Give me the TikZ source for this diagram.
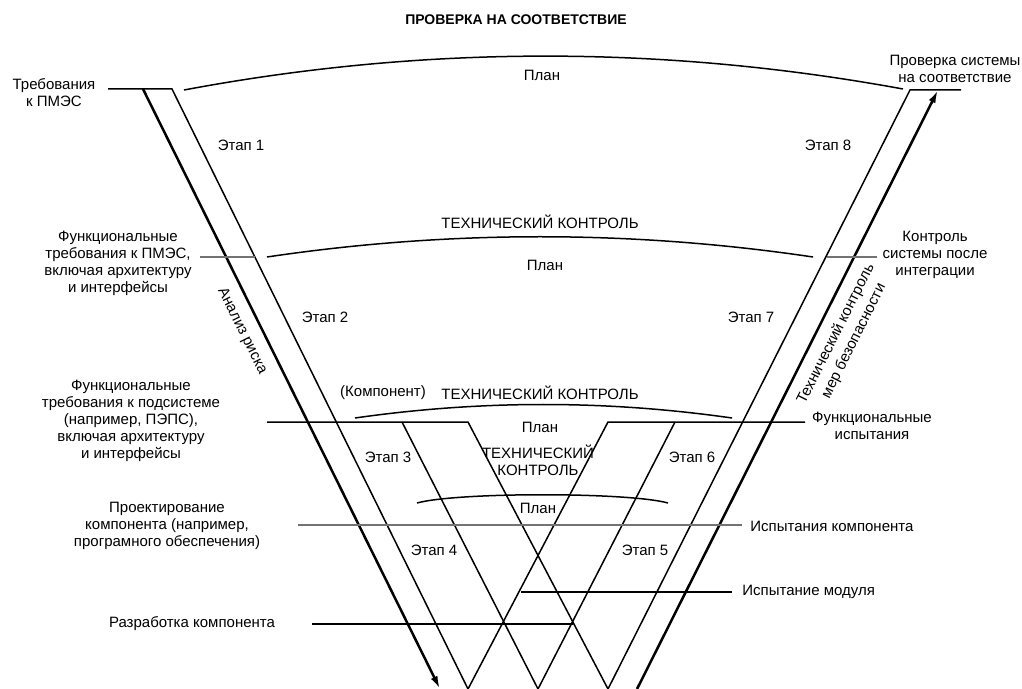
\documentclass[tikz,border=0pt]{standalone}
\usepackage{fontspec}
\setmainfont{Liberation Sans}
\usetikzlibrary{arrows.meta}
\begin{document}
\begin{tikzpicture}[x=0.5pt,y=-0.5pt,
  lbl/.style={font=\fontsize{7.5}{8.5}\selectfont, align=center, inner sep=0pt},
  ttl/.style={font=\bfseries\fontsize{7}{8}\selectfont, inner sep=0pt},
  ln/.style={line width=0.75pt},
  thk/.style={line width=1.25pt},
  gry/.style={line width=0.8pt, draw=black!55},
  arr/.style={-{Latex[length=6.5pt,width=3.6pt]}}
]
\useasboundingbox (0,0) rectangle (1022,689);
% coordinates
\coordinate (LOt) at (143,89);  \coordinate (LOb) at (440,689);
\coordinate (LIt) at (172,89);  \coordinate (LIb) at (468,689);
\coordinate (Lh)  at (108,89);
\coordinate (RIt) at (910,90);  \coordinate (RIb) at (608,689);
\coordinate (Rh)  at (961,90);
\coordinate (ROt) at (938,90);  \coordinate (ROb) at (637,689);
\coordinate (Mb)  at (538,689);
% level 3 trapezoid
\coordinate (H3l) at (267,422); \coordinate (Bt) at (468,422);
\coordinate (Ct)  at (608,422); \coordinate (H3r) at (805,422);
\coordinate (At)  at (402,422); \coordinate (Dt) at (675,422);
% outer band
\draw[thk,arr] (LOt) -- (LOb);
\draw[ln] (Lh) -- (LIt) -- (LIb);
\draw[ln] (Rh) -- (RIt) -- (RIb);
\draw[thk,arr] (ROb) -- (ROt);
% arcs
\coordinate (a1s) at (184,90); \coordinate (a1e) at (903,89);
\draw[ln] (a1s) .. controls (424,45) and (663,45) .. (a1e);
\coordinate (a2s) at (267,257); \coordinate (a2e) at (813,257);
\draw[ln] (a2s) .. controls (449,230) and (631,230) .. (a2e);
\coordinate (a3s) at (355,418); \coordinate (a3e) at (732,418);
\draw[ln] (a3s) .. controls (481,400) and (606,400) .. (a3e);
\coordinate (a4s) at (417,503); \coordinate (a4e) at (668,503);
\draw[ln] (a4s) .. controls (457,492) and (628,492) .. (a4e);
% horizontals
\coordinate (h2a) at (200,257); \coordinate (h2b) at (255,257);
\coordinate (h2c) at (827,257); \coordinate (h2d) at (877,257);
\draw[gry] (h2a) -- (h2b);
\draw[gry] (h2c) -- (h2d);
\draw[ln] (H3l) -- (Bt) -- (RIb);
\draw[ln] (H3r) -- (Ct) -- (LIb);
\draw[ln] (At) -- (Mb);
\draw[ln] (Dt) -- (Mb);
\coordinate (h5a) at (298,525); \coordinate (h5b) at (742,525);
\draw[gry] (h5a) -- (h5b);
\coordinate (h6a) at (521,592); \coordinate (h6b) at (732,592);
\draw[ln] (h6a) -- (h6b);
\coordinate (h7a) at (312,624); \coordinate (h7b) at (573,624);
\draw[ln] (h7a) -- (h7b);
% texts
\node[ttl] (title) at (516,20) {ПРОВЕРКА НА СООТВЕТСТВИЕ};
\node[lbl] (req) at (54,93) {Требования\\к ПМЭС};
\node[lbl] (sysv) at (955,69) {Проверка системы\\на соответствие};
\node[lbl] (plan1) at (542,75) {План};
\node[lbl] (e1) at (241,145) {Этап 1};
\node[lbl] (e8) at (828,145) {Этап 8};
\node[lbl] (tk2) at (540,222) {ТЕХНИЧЕСКИЙ КОНТРОЛЬ};
\node[lbl] (plan2) at (545,265) {План};
\node[lbl] (freq) at (118,263) {Функциональные\\требования к ПМЭС,\\включая архитектуру\\и интерфейсы};
\node[lbl] (sysc) at (935,255) {Контроль\\системы после\\интеграции};
\node[lbl] (e2) at (325,317) {Этап 2};
\node[lbl] (e7) at (751,317) {Этап 7};
\node[lbl,rotate=-63.6] (risk) at (242,331) {Анализ риска};
\node[lbl,rotate=63.4] (safe1) at (836,334) {Технический контроль};
\node[lbl,rotate=63.4] (safe2) at (854,341) {мер безопасности};
\node[lbl] (komp) at (383,393) {(Компонент)};
\node[lbl] (tk3) at (540,393) {ТЕХНИЧЕСКИЙ КОНТРОЛЬ};
\node[lbl] (plan3) at (540,427) {План};
\node[lbl] (sub) at (131,421) {Функциональные\\требования к подсистеме\\(например, ПЭПС),\\включая архитектуру\\и интерфейсы};
\node[lbl] (ftest) at (872,426) {Функциональные\\испытания};
\node[lbl] (e3) at (388,457) {Этап 3};
\node[lbl] (tk4) at (538,460) {ТЕХНИЧЕСКИЙ\\КОНТРОЛЬ};
\node[lbl] (e6) at (692,457) {Этап 6};
\node[lbl] (plan4) at (538,508) {План};
\node[lbl] (cdes) at (167,526) {Проектирование\\компонента (например,\\програмного обеспечения)};
\node[lbl,anchor=west] (ctest) at (750,526) {Испытания компонента};
\node[lbl] (e4) at (434,550) {Этап 4};
\node[lbl] (e5) at (645,550) {Этап 5};
\node[lbl,anchor=west] (mtest) at (742,592) {Испытание модуля};
\node[lbl] (cdev) at (192,624) {Разработка компонента};
\end{tikzpicture}
\end{document}
